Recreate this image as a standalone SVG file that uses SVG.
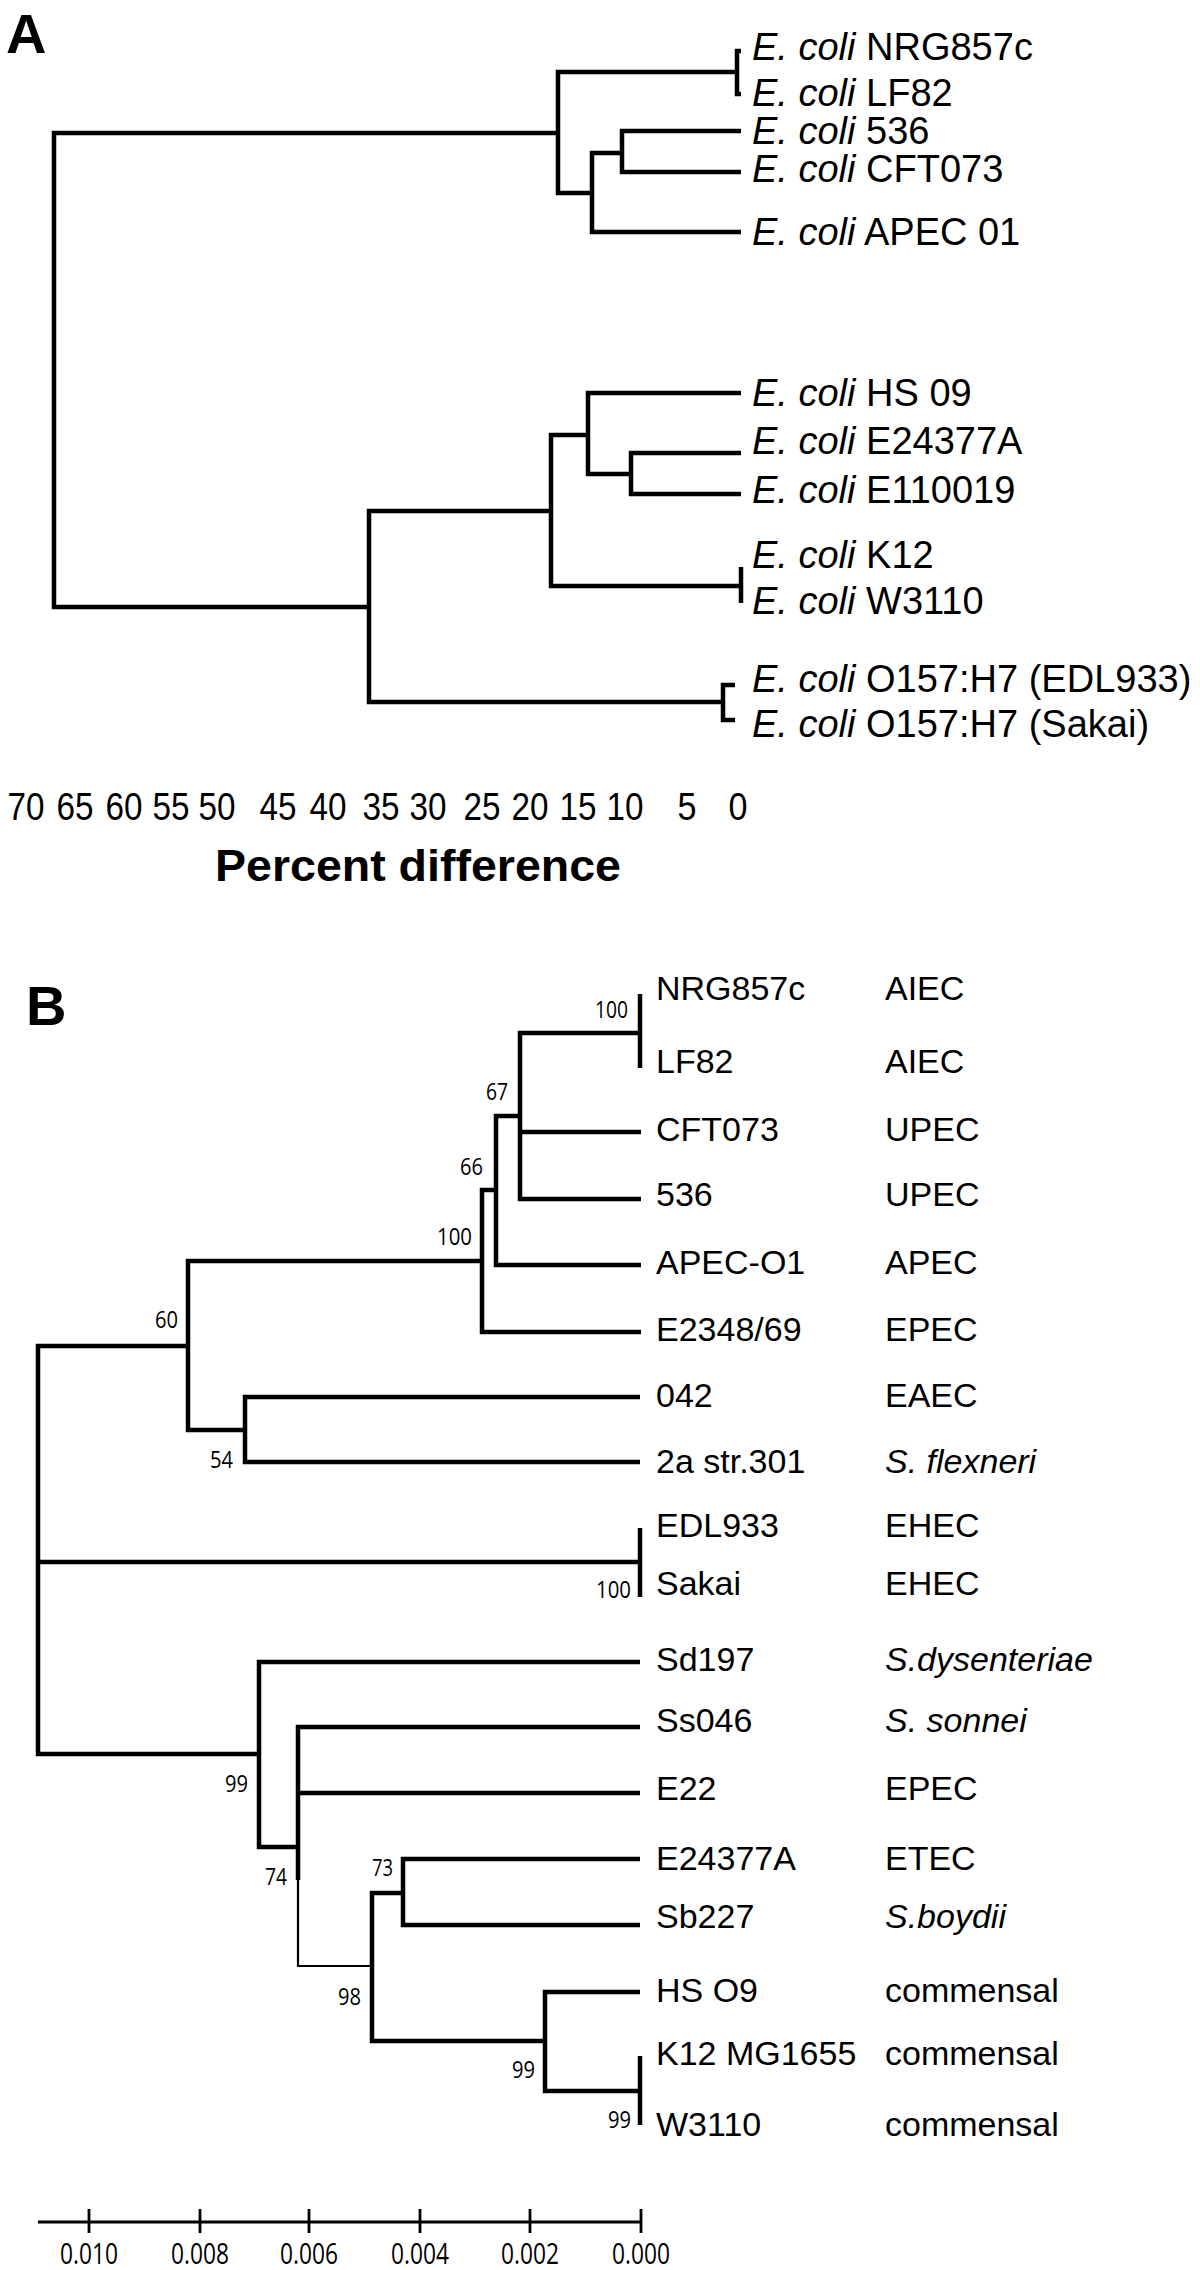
<svg xmlns="http://www.w3.org/2000/svg" width="1200" height="2270" viewBox="0 0 1200 2270">
<style>
text { fill: #000; }
.pl { font-family: "Liberation Sans", Arial, sans-serif; font-weight: bold; font-size: 56px; }
.la { font-family: "Liberation Sans", Arial, sans-serif; font-size: 38px; }
.lb { font-family: "Liberation Sans", Arial, sans-serif; font-size: 34px; }
.it { font-style: italic; }
.ax { font-family: "Liberation Sans", Arial, sans-serif; font-size: 38px; text-anchor: middle; }
.axt { font-family: "Liberation Sans", Arial, sans-serif; font-size: 44px; font-weight: bold; }
.bs { font-family: "Open Sans", "DejaVu Sans", sans-serif; font-size: 24px; }
.sc { font-family: "Open Sans", "DejaVu Sans", sans-serif; font-size: 30px; text-anchor: middle; }
.br { fill: none; stroke: #000; stroke-width: 4.5; stroke-linejoin: miter; stroke-linecap: butt; }
.thin { stroke-width: 2.2; }
.bar { fill: none; stroke: #000; stroke-width: 2.8; }
</style>

<text class="pl" x="6" y="53">A</text>
<text class="pl" x="26" y="1025">B</text>

<g id="connectors-A">
  <path class="br" d="M558,133 H54 V607 H369"/>
  <path class="br" d="M737,72 H558 V193 H592"/>
  <path class="br" d="M741,51 H737 V94 H741"/>
  <path class="br" d="M622,153 H592 V232 H741"/>
  <path class="br" d="M741,131 H622 V172 H741"/>
  <path class="br" d="M551,511 H369 V702 H723"/>
  <path class="br" d="M588,435 H551 V586 H741"/>
  <path class="br" d="M741,393 H588 V474 H631"/>
  <path class="br" d="M741,453 H631 V494 H741"/>
  <path class="br" d="M741,567 V603"/>
  <path class="br" d="M735,685 H723 V720 H735"/>
</g>

<g id="A-NRG857c"><text class="la" x="752" y="60"><tspan class="it">E. coli</tspan> NRG857c</text></g>
<g id="A-LF82"><text class="la" x="752" y="106"><tspan class="it">E. coli</tspan> LF82</text></g>
<g id="A-536"><text class="la" x="752" y="144"><tspan class="it">E. coli</tspan> 536</text></g>
<g id="A-CFT073"><text class="la" x="752" y="182"><tspan class="it">E. coli</tspan> CFT073</text></g>
<g id="A-APEC01"><text class="la" x="752" y="245"><tspan class="it">E. coli</tspan> APEC 01</text></g>
<g id="A-HS09"><text class="la" x="752" y="406"><tspan class="it">E. coli</tspan> HS 09</text></g>
<g id="A-E24377A"><text class="la" x="752" y="454"><tspan class="it">E. coli</tspan> E24377A</text></g>
<g id="A-E110019"><text class="la" x="752" y="503"><tspan class="it">E. coli</tspan> E110019</text></g>
<g id="A-K12"><text class="la" x="752" y="568"><tspan class="it">E. coli</tspan> K12</text></g>
<g id="A-W3110"><text class="la" x="752" y="614"><tspan class="it">E. coli</tspan> W3110</text></g>
<g id="A-EDL933"><text class="la" x="752" y="692"><tspan class="it">E. coli</tspan> O157:H7 (EDL933)</text></g>
<g id="A-Sakai"><text class="la" x="752" y="737"><tspan class="it">E. coli</tspan> O157:H7 (Sakai)</text></g>

<g id="A-axis">
  <text class="ax" x="26" y="820" textLength="37" lengthAdjust="spacingAndGlyphs">70</text>
  <text class="ax" x="75" y="820" textLength="37" lengthAdjust="spacingAndGlyphs">65</text>
  <text class="ax" x="124" y="820" textLength="37" lengthAdjust="spacingAndGlyphs">60</text>
  <text class="ax" x="171" y="820" textLength="37" lengthAdjust="spacingAndGlyphs">55</text>
  <text class="ax" x="217" y="820" textLength="37" lengthAdjust="spacingAndGlyphs">50</text>
  <text class="ax" x="278" y="820" textLength="37" lengthAdjust="spacingAndGlyphs">45</text>
  <text class="ax" x="328" y="820" textLength="37" lengthAdjust="spacingAndGlyphs">40</text>
  <text class="ax" x="381" y="820" textLength="37" lengthAdjust="spacingAndGlyphs">35</text>
  <text class="ax" x="428" y="820" textLength="37" lengthAdjust="spacingAndGlyphs">30</text>
  <text class="ax" x="482" y="820" textLength="37" lengthAdjust="spacingAndGlyphs">25</text>
  <text class="ax" x="530" y="820" textLength="37" lengthAdjust="spacingAndGlyphs">20</text>
  <text class="ax" x="578" y="820" textLength="37" lengthAdjust="spacingAndGlyphs">15</text>
  <text class="ax" x="625" y="820" textLength="37" lengthAdjust="spacingAndGlyphs">10</text>
  <text class="ax" x="687" y="820" textLength="19" lengthAdjust="spacingAndGlyphs">5</text>
  <text class="ax" x="738" y="820" textLength="19" lengthAdjust="spacingAndGlyphs">0</text>
  <text class="axt" x="215" y="881" textLength="406" lengthAdjust="spacingAndGlyphs">Percent difference</text>
</g>

<g id="connectors-B">
  <path class="br" d="M188,1346 H38 V1754 H259"/>
  <path class="br" d="M38,1562 H640"/>
  <path class="br" d="M640,1528 V1597"/>
  <path class="br" d="M482,1261 H188 V1430 H245"/>
  <path class="br" d="M640,1397 H245 V1462 H640"/>
  <path class="br" d="M496,1190 H482 V1332 H641"/>
  <path class="br" d="M520,1116 H496 V1265 H641"/>
  <path class="br" d="M640,1033 H520 V1199 H641"/>
  <path class="br" d="M520,1132 H641"/>
  <path class="br" d="M640,994 V1068"/>
  <path class="br" d="M640,1662 H259 V1847 H298"/>
  <path class="br" d="M640,1727 H298 V1880"/>
  <path class="br" d="M298,1793 H640"/>
  <path class="br thin" d="M298,1878 V1966 H372"/>
  <path class="br" d="M403,1893 H372 V2041 H545"/>
  <path class="br" d="M640,1859 H403 V1925 H640"/>
  <path class="br" d="M640,1992 H545 V2091 H640"/>
  <path class="br" d="M640,2056 V2125"/>
</g>

<g id="bootstrap">
  <text class="bs" x="595" y="1018" textLength="33" lengthAdjust="spacingAndGlyphs">100</text>
  <text class="bs" x="486" y="1100" textLength="22" lengthAdjust="spacingAndGlyphs">67</text>
  <text class="bs" x="460" y="1175" textLength="23" lengthAdjust="spacingAndGlyphs">66</text>
  <text class="bs" x="437" y="1245" textLength="35" lengthAdjust="spacingAndGlyphs">100</text>
  <text class="bs" x="155" y="1328" textLength="23" lengthAdjust="spacingAndGlyphs">60</text>
  <text class="bs" x="210" y="1468" textLength="23" lengthAdjust="spacingAndGlyphs">54</text>
  <text class="bs" x="596" y="1598" textLength="35" lengthAdjust="spacingAndGlyphs">100</text>
  <text class="bs" x="225" y="1792" textLength="23" lengthAdjust="spacingAndGlyphs">99</text>
  <text class="bs" x="265" y="1885" textLength="22" lengthAdjust="spacingAndGlyphs">74</text>
  <text class="bs" x="372" y="1876" textLength="21" lengthAdjust="spacingAndGlyphs">73</text>
  <text class="bs" x="338" y="2005" textLength="23" lengthAdjust="spacingAndGlyphs">98</text>
  <text class="bs" x="512" y="2078" textLength="23" lengthAdjust="spacingAndGlyphs">99</text>
  <text class="bs" x="608" y="2128" textLength="23" lengthAdjust="spacingAndGlyphs">99</text>
</g>

<g id="B-NRG857c"><text class="lb" x="656" y="1000">NRG857c</text><text class="lb" x="885" y="1000">AIEC</text></g>
<g id="B-LF82"><text class="lb" x="656" y="1073">LF82</text><text class="lb" x="885" y="1073">AIEC</text></g>
<g id="B-CFT073"><text class="lb" x="656" y="1141">CFT073</text><text class="lb" x="885" y="1141">UPEC</text></g>
<g id="B-536"><text class="lb" x="656" y="1206">536</text><text class="lb" x="885" y="1206">UPEC</text></g>
<g id="B-APEC-O1"><text class="lb" x="656" y="1274">APEC-O1</text><text class="lb" x="885" y="1274">APEC</text></g>
<g id="B-E2348"><text class="lb" x="656" y="1341">E2348/69</text><text class="lb" x="885" y="1341">EPEC</text></g>
<g id="B-042"><text class="lb" x="656" y="1407">042</text><text class="lb" x="885" y="1407">EAEC</text></g>
<g id="B-2a"><text class="lb" x="656" y="1473">2a str.301</text><text class="lb it" x="885" y="1473">S. flexneri</text></g>
<g id="B-EDL933"><text class="lb" x="656" y="1537">EDL933</text><text class="lb" x="885" y="1537">EHEC</text></g>
<g id="B-Sakai"><text class="lb" x="656" y="1595">Sakai</text><text class="lb" x="885" y="1595">EHEC</text></g>
<g id="B-Sd197"><text class="lb" x="656" y="1671">Sd197</text><text class="lb it" x="885" y="1671">S.dysenteriae</text></g>
<g id="B-Ss046"><text class="lb" x="656" y="1732">Ss046</text><text class="lb it" x="885" y="1732">S. sonnei</text></g>
<g id="B-E22"><text class="lb" x="656" y="1800">E22</text><text class="lb" x="885" y="1800">EPEC</text></g>
<g id="B-E24377A"><text class="lb" x="656" y="1870">E24377A</text><text class="lb" x="885" y="1870">ETEC</text></g>
<g id="B-Sb227"><text class="lb" x="656" y="1928">Sb227</text><text class="lb it" x="885" y="1928">S.boydii</text></g>
<g id="B-HSO9"><text class="lb" x="656" y="2002">HS O9</text><text class="lb" x="885" y="2002">commensal</text></g>
<g id="B-K12"><text class="lb" x="656" y="2065">K12 MG1655</text><text class="lb" x="885" y="2065">commensal</text></g>
<g id="B-W3110"><text class="lb" x="656" y="2136">W3110</text><text class="lb" x="885" y="2136">commensal</text></g>

<g id="scale-bar">
  <path class="bar" d="M38,2222 H641 M89,2209 V2233 M200,2209 V2233 M309,2209 V2233 M420,2209 V2233 M530,2209 V2233 M641,2209 V2233"/>
  <text class="sc" x="89" y="2264" textLength="58" lengthAdjust="spacingAndGlyphs">0.010</text>
  <text class="sc" x="200" y="2264" textLength="58" lengthAdjust="spacingAndGlyphs">0.008</text>
  <text class="sc" x="309" y="2264" textLength="58" lengthAdjust="spacingAndGlyphs">0.006</text>
  <text class="sc" x="420" y="2264" textLength="58" lengthAdjust="spacingAndGlyphs">0.004</text>
  <text class="sc" x="530" y="2264" textLength="58" lengthAdjust="spacingAndGlyphs">0.002</text>
  <text class="sc" x="641" y="2264" textLength="58" lengthAdjust="spacingAndGlyphs">0.000</text>
</g>
</svg>
